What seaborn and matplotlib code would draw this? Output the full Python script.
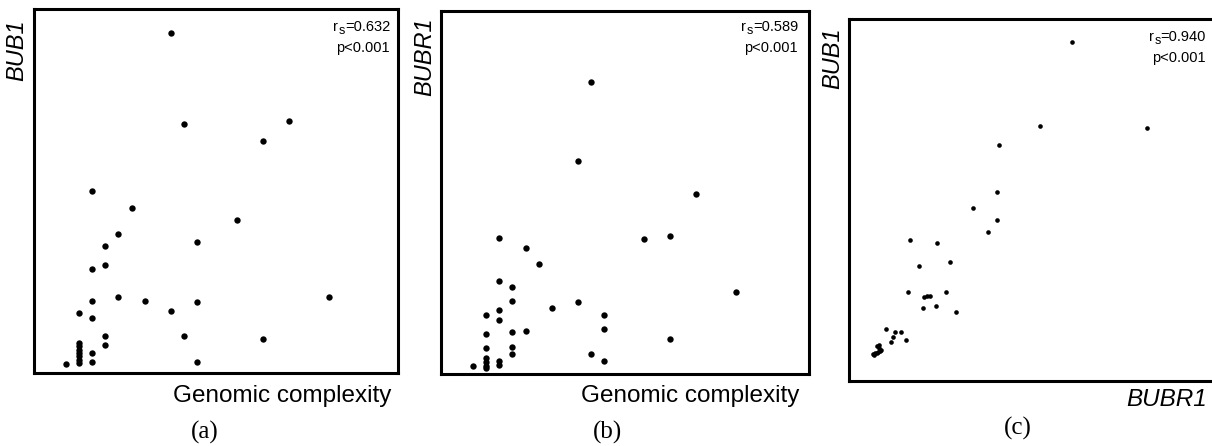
import seaborn as sns
import matplotlib.pyplot as plt
import pandas as pd

# (a) genomic complexity vs BUB1 expression
gc_a = [8, 9, 17, 15, 2, 5, 13, 4, 10, 3, 3, 2, 4, 2, 6, 10, 20, 1, 8, 2,
        3, 9, 15, 3, 2, 2, 10, 0, 1, 1, 1, 1, 1, 1, 1]
bub1_a = [93.5, 68.5, 69.2, 63.7, 50.0, 45.3, 41.9, 38.2, 36.1, 35.0, 29.8, 28.5,
          21.0, 19.9, 19.8, 19.4, 21.0, 16.5, 16.9, 15.2, 10.3, 10.3, 9.3, 7.8,
          5.5, 3.1, 3.1, 2.5, 8.2, 7.3, 6.4, 5.5, 4.6, 3.7, 2.7]

# (b) genomic complexity vs BUBR1 expression
gc_b = [9, 8, 17, 2, 13, 15, 4, 5, 2, 3, 3, 20, 6, 8, 2, 1, 10, 2, 10, 1,
        3, 4, 15, 1, 3, 3, 9, 10, 1, 1, 1, 1, 2, 2, 0]
bubr1_b = [80.4, 58.8, 49.7, 37.4, 37.3, 37.9, 34.6, 30.3, 25.5, 23.9, 20.1, 22.7,
           18.2, 19.8, 17.5, 16.3, 16.3, 14.9, 12.4, 11.1, 11.7, 11.9, 9.7, 7.2,
           7.5, 5.5, 5.6, 3.6, 4.4, 3.2, 2.3, 1.6, 3.7, 2.6, 2.2]

# (c) BUBR1 vs BUB1
bubr1_c = [61.0, 52.4, 81.7, 41.1, 40.6, 33.9, 40.6, 38.0, 16.8, 24.0, 27.8, 19.1,
           16.2, 26.5, 20.5, 21.5, 22.3, 20.4, 23.8, 29.2, 10.1, 12.7, 14.2, 12.0,
           15.5, 11.5, 7.6, 8.3, 8.8, 8.5, 7.9, 7.2, 6.5, 6.9, 7.6, 8.2]
bub1_c = [93.6, 70.5, 70.0, 65.3, 52.3, 47.7, 44.5, 41.1, 39.0, 38.0, 33.0, 31.7,
          24.5, 24.6, 23.1, 23.5, 23.4, 20.3, 20.7, 19.1, 14.5, 13.6, 13.4, 12.2,
          11.4, 10.7, 9.8, 9.2, 8.7, 8.4, 8.0, 7.6, 7.5, 7.1, 7.8, 9.9]

stats = ['0.632', '0.589', '0.940']

sns.set_style('white')
plt.rcParams['font.family'] = ['Liberation Sans', 'DejaVu Sans']
plt.rcParams['text.color'] = 'black'

W, H = 1212, 446
fig = plt.figure(figsize=(W / 100, H / 100), dpi=100)


def box(x0, y0, x1, y1):
    # pixel box (top-left origin) -> figure fraction
    return [x0 / W, 1 - y1 / H, (x1 - x0) / W, (y1 - y0) / H]


def px(x, y):
    return x / W, 1 - y / H


ax_a = fig.add_axes(box(33.5, 9, 398, 373))
ax_b = fig.add_axes(box(441, 11, 809, 374))
ax_c = fig.add_axes(box(849, 19, 1214, 381))

df_a = pd.DataFrame({'gc': gc_a, 'y': bub1_a})
df_b = pd.DataFrame({'gc': gc_b, 'y': bubr1_b})
df_c = pd.DataFrame({'x': bubr1_c, 'y': bub1_c})

sns.scatterplot(data=df_a, x='gc', y='y', ax=ax_a, color='black', s=21, linewidth=0)
sns.scatterplot(data=df_b, x='gc', y='y', ax=ax_b, color='black', s=21, linewidth=0)
sns.scatterplot(data=df_c, x='x', y='y', ax=ax_c, color='black', s=11, linewidth=0)

ax_a.set_xlim(-2.46, 25.27)
ax_b.set_xlim(-2.43, 25.57)
ax_c.set_xlim(0, 100)
for ax in (ax_a, ax_b, ax_c):
    ax.set_ylim(0, 100)
    ax.set_xticks([])
    ax.set_yticks([])
    ax.set_xlabel('')
    ax.set_ylabel('')
    for sp in ax.spines.values():
        sp.set_visible(True)
        sp.set_linewidth(2.2)
        sp.set_color('black')

# stats in the top-right corner: "r" + subscript "s" + "=value"
for (x, y0), st in zip([(390, 27), (798, 27), (1206, 37)], stats):
    t = fig.text(*px(x, y0), '=' + st, ha='right', va='center', fontsize=10.5)
    fig.canvas.draw()
    bb = t.get_window_extent()
    xs = bb.x0
    fig.text(xs / W, 1 - (y0 + 4) / H, 's', ha='right', va='center', fontsize=9)
    fig.text((xs - 7) / W, 1 - y0 / H, 'r', ha='right', va='center', fontsize=10.5)
    fig.text(*px(x, y0 + 21), 'p<0.001', ha='right', va='center', fontsize=10.5)

# axis labels
lab = dict(fontsize=17, fontstyle='italic', rotation=90, ha='center', va='top')
fig.text(*px(17, 19), 'BUB1', **lab)
fig.text(*px(425, 17), 'BUBR1', **lab)
fig.text(*px(833, 27), 'BUB1', **lab)

fig.text(*px(391, 396), 'Genomic complexity', ha='right', va='center', fontsize=17.5)
fig.text(*px(799, 396), 'Genomic complexity', ha='right', va='center', fontsize=17.5)
fig.text(*px(1207, 400), 'BUBR1', ha='right', va='center', fontsize=17.5, fontstyle='italic')

pan = dict(ha='center', va='center', fontsize=18, family=['Liberation Serif', 'DejaVu Serif'])
fig.text(*px(205, 432), '(a)', **pan)
fig.text(*px(607, 432), '(b)', **pan)
fig.text(*px(1018, 428), '(c)', **pan)

plt.savefig('out.png', dpi=100)
